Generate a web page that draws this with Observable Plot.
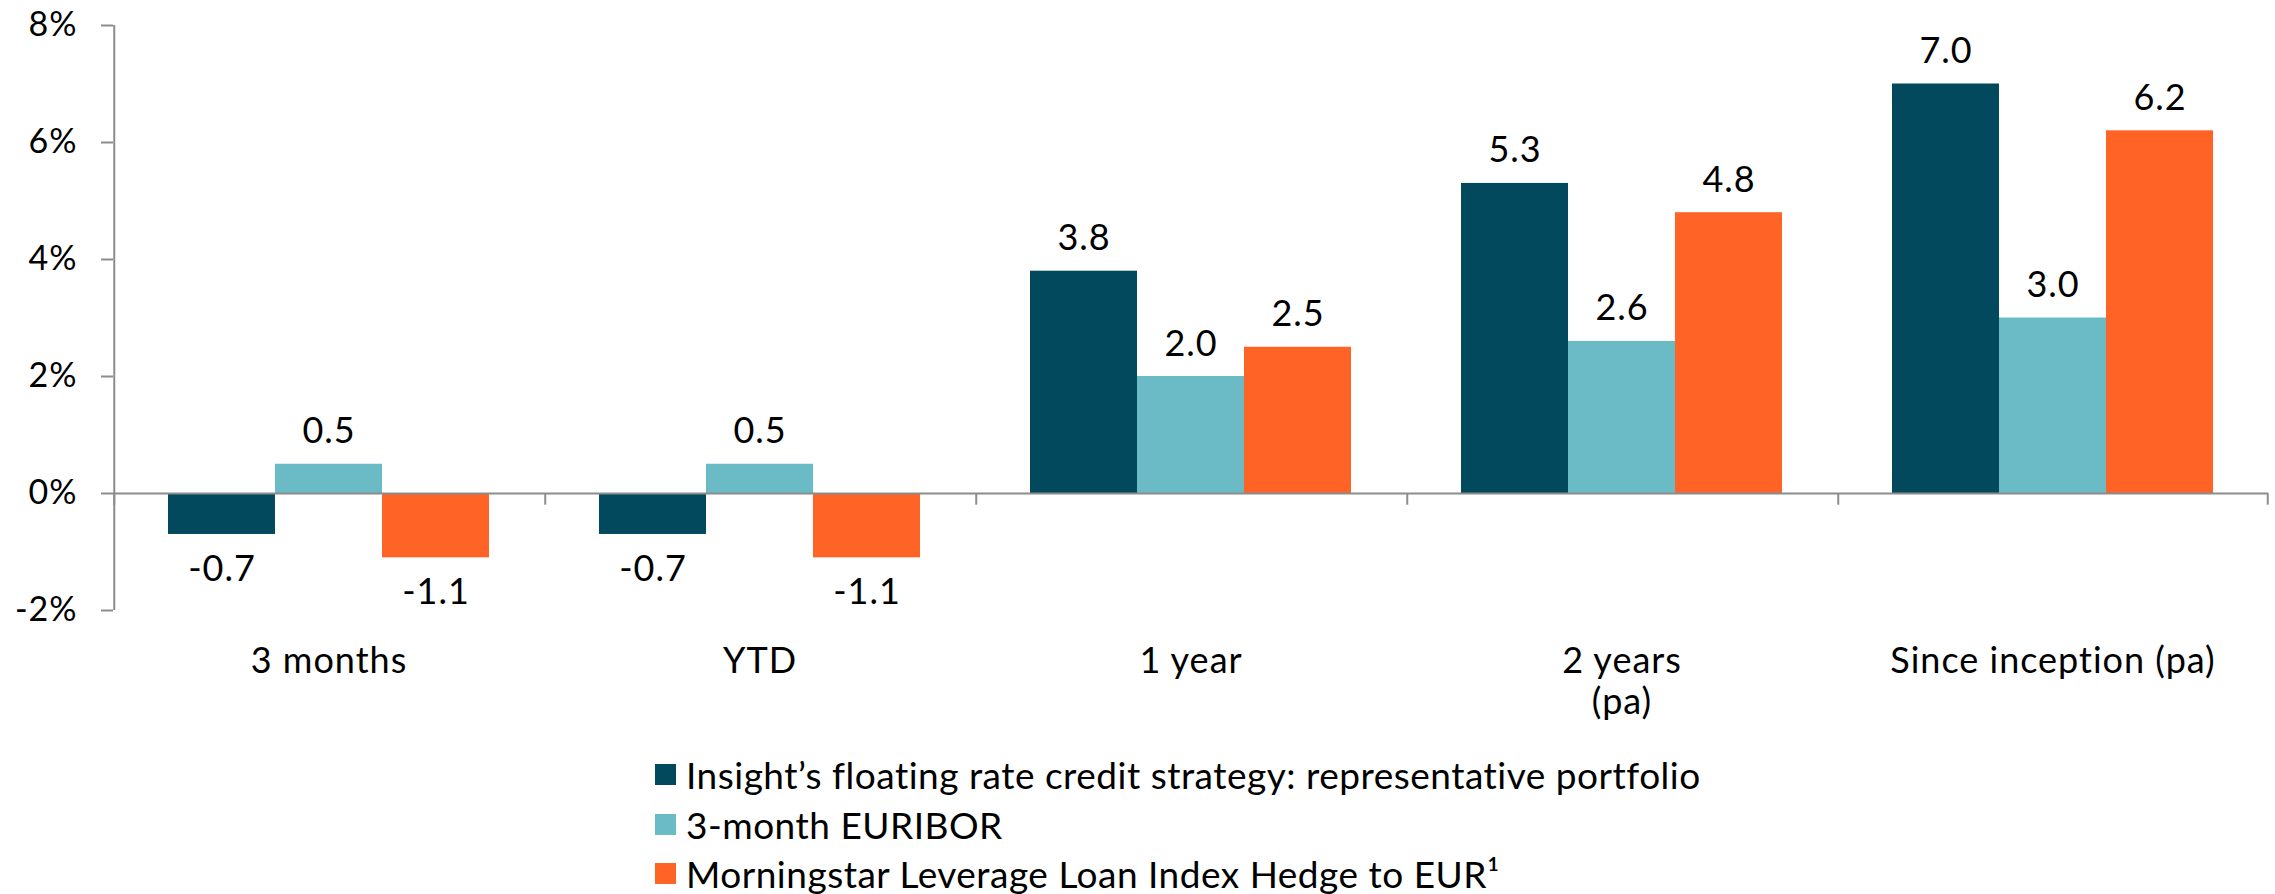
<!DOCTYPE html>
<html><head><meta charset="utf-8">
<script src="https://cdn.jsdelivr.net/npm/d3@7"></script>
<script src="https://cdn.jsdelivr.net/npm/@observablehq/plot@0.6"></script>
<style>
html,body{margin:0;padding:0;background:#fff;overflow:hidden;}
body{font-family:Lato, "Noto Sans", sans-serif;}
#legend{margin-left:655px;}
.row{display:flex;align-items:center;height:49.5px;font-size:37px;letter-spacing:0.5px;color:#000;white-space:nowrap;}
.sw{width:21px;height:21px;margin-right:10px;flex:none;}
</style></head><body>
<div id="chart"></div><div id="legend"></div>
<script>
const categories = ["3 months", "YTD", "1 year", "2 years (pa)", "Since inception (pa)"];
const tickLabels = ["3 months", "YTD", "1 year", "2 years\n(pa)", "Since inception (pa)"];
const series = ["Insight’s floating rate credit strategy: representative portfolio", "3-month EURIBOR", "Morningstar Leverage Loan Index Hedge to EUR¹"];
const insight = [-0.7, -0.7, 3.8, 5.3, 7.0];
const euribor = [0.5, 0.5, 2.0, 2.6, 3.0];
const morningstar = [-1.1, -1.1, 2.5, 4.8, 6.2];
const colors = ["#02495E", "#6BBBC6", "#FF6325"];
const yTicks = [-2, 0, 2, 4, 6, 8];
const yDomain = [-2, 8];

const seriesValues = [insight, euribor, morningstar];
const data = categories.flatMap((c, i) => series.map((s, j) => ({category: c, series: s, value: seriesValues[j][i]})));

const W = 2275, H = 750, mL = 113, mR = 7, mT = 25, mB = 140;
const outer = 0.5;
const step = (W - mL - mR) / categories.length / (series.length + 2 * outer);
const axisGray = "#8c8c8c";

const chart = Plot.plot({
  width: W, height: H, marginLeft: mL, marginRight: mR, marginTop: mT, marginBottom: mB,
  style: {fontFamily: "Lato, 'Noto Sans', sans-serif", fontSize: "34px", color: "#000", background: "#fff", letterSpacing: "1px"},
  fx: {domain: categories, padding: 0, label: null},
  x: {domain: series, paddingInner: 0, paddingOuter: outer, axis: null},
  y: {domain: yDomain, label: null},
  color: {domain: series, range: colors},
  marks: [
    Plot.barY(data, {fx: "category", x: "series", y: "value", fill: "series"}),
    Plot.ruleY([0], {stroke: axisGray, strokeWidth: 2}),
    Plot.ruleX([categories[0]], {fx: d => d, x: () => series[0], y1: yDomain[0], y2: yDomain[1], dx: -step, stroke: axisGray, strokeWidth: 2}),
    Plot.ruleX(categories, {fx: d => d, x: () => series[0], y1: 0, y2: -0.2, dx: -step, stroke: axisGray, strokeWidth: 2}),
    Plot.ruleX([categories[categories.length - 1]], {fx: d => d, x: () => series[series.length - 1], y1: 0, y2: -0.2, dx: step, stroke: axisGray, strokeWidth: 2}),
    Plot.text(data.filter(d => d.value >= 0), {fx: "category", x: "series", y: "value", text: d => d.value.toFixed(1), lineAnchor: "bottom", dy: -21, fontSize: 36, fill: "#000"}),
    Plot.text(data.filter(d => d.value < 0), {fx: "category", x: "series", y: "value", text: d => d.value.toFixed(1), lineAnchor: "top", dy: 21, fontSize: 36, fill: "#000"}),
    Plot.axisY({ticks: yTicks, tickFormat: d => `${d}%`, tickSize: 12, tickPadding: 24, stroke: axisGray, fill: "#000", strokeWidth: 2, fontSize: 34, label: null}),
    Plot.axisFx({anchor: "bottom", tickSize: 0, tickPadding: 33, tickFormat: d => tickLabels[categories.indexOf(d)], fontSize: 36, lineHeight: 1.15, fill: "#000", label: null})
  ]
});
document.getElementById("chart").appendChild(chart);

const legend = document.getElementById("legend");
series.forEach((s, i) => {
  const row = document.createElement("div");
  row.className = "row";
  const sw = document.createElement("span");
  sw.className = "sw";
  sw.style.background = colors[i];
  const t = document.createElement("span");
  t.textContent = s;
  row.appendChild(sw);
  row.appendChild(t);
  legend.appendChild(row);
});
</script>
</body></html>
